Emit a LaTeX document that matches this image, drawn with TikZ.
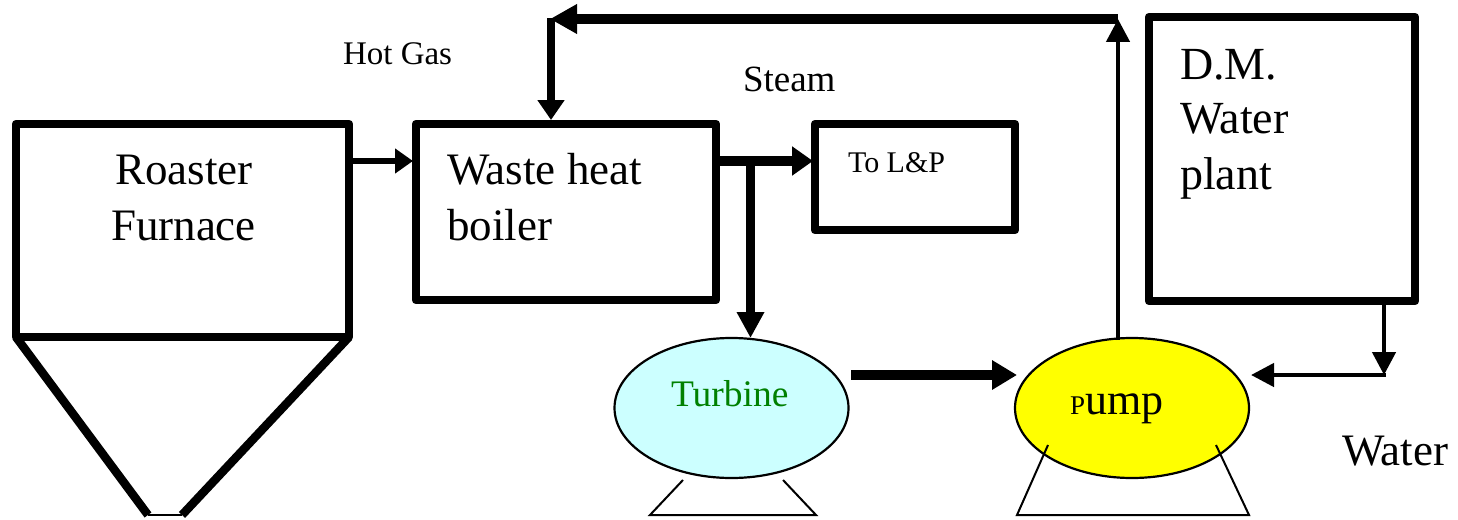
\documentclass[tikz,border=0pt]{standalone}
\usepackage{fontspec}
\setmainfont{Liberation Serif}
\usetikzlibrary{shapes.geometric,arrows.meta,calc}
\definecolor{turbfill}{HTML}{CCFFFF}
\definecolor{turbtext}{HTML}{008000}
\definecolor{pumpfill}{HTML}{FFFF00}
\tikzset{
  box/.style={draw=black,line width=8.5pt,line join=round,rectangle,inner sep=0pt,outer sep=0pt},
  vessel/.style={draw=black,line width=2.2pt,ellipse,inner sep=0pt,outer sep=0pt},
  lbl/.style={anchor=base west,inner sep=0pt,outer sep=0pt,align=left,text=black},
  thickflow/.style={line width=10pt,-{Triangle[length=25pt,width=28pt]}},
  thinflow/.style={line width=4.5pt,-{Triangle[length=23pt,width=23pt]}},
  foot/.style={line width=2pt,line join=miter},
  hopper/.style={line width=8.5pt},
}
\newcommand{\fsz}[1]{\fontsize{#1pt}{#1pt}\selectfont}
\begin{document}
\begin{tikzpicture}[x=1pt,y=-1pt]
\useasboundingbox (0,0) rectangle (1458,519);
% boxes
\node[box,minimum width=333pt,minimum height=213pt] (roaster) at (182.5,230.5) {};
\node[box,minimum width=300pt,minimum height=176pt] (boiler) at (566,212) {};
\node[box,minimum width=200pt,minimum height=106pt] (lp) at (915,177) {};
\node[box,minimum width=266pt,minimum height=284pt] (dm) at (1282,159) {};
% vessels
\node[vessel,fill=turbfill,minimum width=234pt,minimum height=140pt] (turbine) at (731.5,408) {};
\node[vessel,fill=pumpfill,minimum width=234pt,minimum height=140pt] (pump) at (1132,408) {};
% hopper
\coordinate (hopL) at (148,515);
\coordinate (hopR) at (182,515);
\draw[hopper] (roaster.south west) -- (hopL);
\draw[hopper] (roaster.south east) -- (hopR);
\draw[line width=2pt] (hopL) -- (hopR);
% feet
\coordinate (tf1) at (683,480);\coordinate (tf2) at (650,515);\coordinate (tf3) at (816,515);\coordinate (tf4) at (783,480);
\draw[foot] (tf1) -- (tf2) -- (tf3) -- (tf4);
\coordinate (pf1) at (1048,445);\coordinate (pf2) at (1017,515);\coordinate (pf3) at (1249,515);\coordinate (pf4) at (1216,445);
\draw[foot] (pf1) -- (pf2) -- (pf3) -- (pf4);
% connectors
\coordinate (hg) at (0,161);
\draw[line width=5.5pt,-{Triangle[length=18pt,width=24pt]},shorten >=3pt] (hg -| roaster.east) -- (hg -| boiler.west);
\coordinate (st) at (0,161);
\draw[line width=10pt,-{Triangle[length=21pt,width=28pt]},shorten >=2pt] (st -| boiler.east) -- (st -| lp.west);
\coordinate (tapx) at (750.5,161);
\draw[line width=9pt,-{Triangle[length=26pt,width=26pt]}] (tapx) -- (tapx |- turbine.north);
\coordinate (tp) at (851,375);
\coordinate (tq) at (1017,375);
\draw[line width=10.5pt,-{Triangle[length=25pt,width=28pt]}] (tp) -- (tq);
\coordinate (upx) at (1118,19);
\coordinate (upb) at (1118,340);
\draw[thinflow] (upb) -- (upx);
\coordinate (lft) at (550,19);
\draw[line width=10pt,-{Triangle[length=27pt,width=28pt]}] (upx) -- (lft);
\coordinate (bt) at (551,18);
\draw[line width=8.5pt,-{Triangle[length=20pt,width=26pt]},shorten >=4pt] (bt) -- (bt |- boiler.north);
\coordinate (wt) at (1384,375);
\draw[thinflow] (wt |- dm.south) -- (wt);
\coordinate (wl) at (1251,375);
\draw[thinflow] (1386,375) -- (wl);
% labels
\node[lbl,font=\fsz{45}] (t1) at (115,184) {Roaster};
\node[lbl,font=\fsz{45}] (t2) at (111,240) {Furnace};
\node[lbl,font=\fsz{45}] (t3) at (447,184) {Waste heat};
\node[lbl,font=\fsz{45}] (t4) at (447,240) {boiler};
\node[lbl,font=\fsz{33}] (t5) at (343,64) {Hot Gas};
\node[lbl,font=\fsz{37}] (t6) at (743,92) {Steam};
\node[lbl,font=\fsz{30}] (t7) at (848,172) {To L\&P};
\node[lbl,font=\fsz{46}] (t8) at (1180,79) {D.M.};
\node[lbl,font=\fsz{46}] (t9) at (1180,133) {Water};
\node[lbl,font=\fsz{46}] (t10) at (1180,189) {plant};
\node[lbl,font=\fsz{37.5},text=turbtext] (t11) at (671,406) {Turbine};
\node[lbl] (t12) at (1070,414) {{\fsz{27}P}{\fsz{44}ump}};
\node[lbl,font=\fsz{45}] (t13) at (1342,465) {Water};
\end{tikzpicture}
\end{document}
